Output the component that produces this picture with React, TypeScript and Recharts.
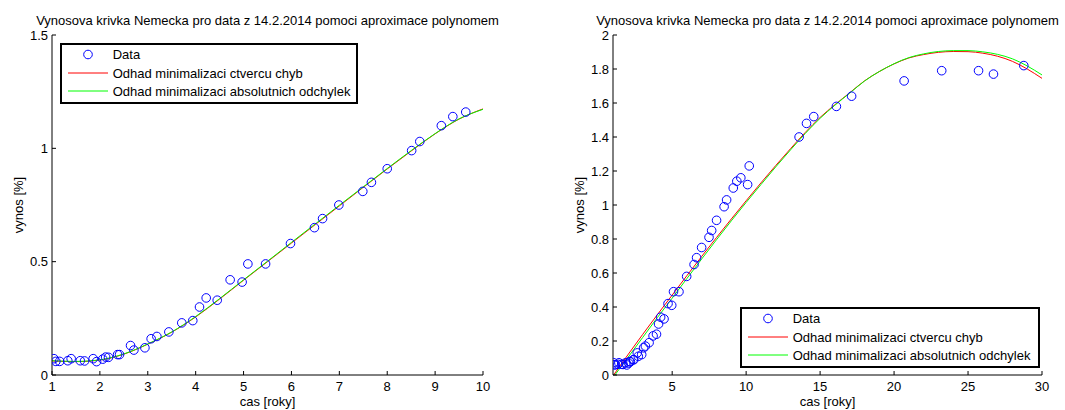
import { ComposedChart, Label, Legend, Line, Scatter, XAxis, YAxis } from "recharts";

const FONT = "'Liberation Sans', Arial, Helvetica, sans-serif";
const TITLE = "Vynosova krivka Nemecka pro data z 14.2.2014 pomoci aproximace polynomem";
const X_LABEL = "cas [roky]";
const Y_LABEL = "vynos [%]";
const SERIES = [
  "Data",
  "Odhad minimalizaci ctvercu chyb",
  "Odhad minimalizaci absolutnich odchylek",
];

// pozorovane vynosy, splatnost do 10 let
const casShort = [
  1.04, 1.08, 1.16, 1.33, 1.4, 1.59, 1.68, 1.86, 1.93, 2.06, 2.12, 2.18, 2.37, 2.41,
  2.64, 2.71, 2.94, 3.07, 3.19, 3.44, 3.71, 3.94, 4.08, 4.22, 4.45, 4.72, 4.97, 5.09,
  5.46, 5.98, 6.48, 6.65, 6.99, 7.49, 7.67, 8.0, 8.51, 8.68, 9.13, 9.37, 9.64,
];
const vynosShort = [
  0.072, 0.06, 0.06, 0.063, 0.072, 0.063, 0.062, 0.072, 0.059, 0.07, 0.079, 0.078, 0.09, 0.09,
  0.13, 0.11, 0.12, 0.16, 0.17, 0.19, 0.23, 0.24, 0.3, 0.34, 0.33, 0.42, 0.41, 0.49,
  0.49, 0.58, 0.65, 0.69, 0.75, 0.81, 0.85, 0.91, 0.99, 1.03, 1.1, 1.14, 1.16,
];
// delsi splatnosti, jen v pravem grafu
const casLong = [10.1, 10.21, 13.58, 14.08, 14.57, 16.1, 17.13, 20.68, 23.22, 25.71, 26.72, 28.77];
const vynosLong = [1.12, 1.23, 1.4, 1.48, 1.52, 1.58, 1.64, 1.73, 1.79, 1.79, 1.77, 1.82];

// odhadnute krivky
const fitShortCas = [1, 1.5, 2, 2.5, 3, 3.5, 4, 4.5, 5, 5.5, 6, 6.5, 7, 7.5, 8, 8.5, 9, 9.5, 10];
const fitShortLsq = [
  0.062, 0.059, 0.066, 0.092, 0.136, 0.189, 0.256, 0.335, 0.418, 0.5, 0.582, 0.664, 0.746,
  0.828, 0.909, 0.988, 1.064, 1.129, 1.174,
];
const fitShortLad = [
  0.063, 0.06, 0.067, 0.093, 0.137, 0.19, 0.258, 0.337, 0.42, 0.502, 0.585, 0.667, 0.749,
  0.83, 0.911, 0.99, 1.065, 1.13, 1.172,
];
const fitLongCas = [
  1, 2, 3, 4, 5, 6, 7, 8, 9, 10, 11, 12, 13, 14, 15, 16, 17, 18, 19, 20, 21, 22, 23, 24, 25,
  26, 27, 28, 29, 30,
];
const fitLongLsq = [
  -0.005, 0.118, 0.238, 0.355, 0.47, 0.585, 0.698, 0.809, 0.918, 1.025, 1.13, 1.232, 1.331,
  1.427, 1.515, 1.59, 1.66, 1.73, 1.785, 1.83, 1.865, 1.885, 1.898, 1.903, 1.902, 1.893,
  1.875, 1.845, 1.8, 1.745,
];
const fitLongLad = [
  -0.015, 0.102, 0.22, 0.338, 0.452, 0.568, 0.683, 0.796, 0.907, 1.015, 1.12, 1.224, 1.324,
  1.421, 1.51, 1.587, 1.658, 1.729, 1.785, 1.831, 1.867, 1.889, 1.903, 1.908, 1.908, 1.901,
  1.886, 1.86, 1.818, 1.765,
];

const leftXTicks = [1, 2, 3, 4, 5, 6, 7, 8, 9, 10];
const leftYTicks = [0, 0.5, 1, 1.5];
const rightXTicks = [5, 10, 15, 20, 25, 30];
const rightYTicks = [0, 0.2, 0.4, 0.6, 0.8, 1, 1.2, 1.4, 1.6, 1.8, 2];

type Pt = { x: number; y: number };
const zip = (xs: number[], ys: number[]): Pt[] => xs.map((x, i) => ({ x, y: ys[i] }));

const BLUE = "#0000ff";
const RED = "#ff0000";
const GREEN = "#00ff00";

const Ring = (p: any) => (
  <circle cx={p.cx} cy={p.cy} r={4.3} fill="none" stroke={BLUE} strokeWidth={1} />
);

function LegendBox({ w, h }: { w: number; h: number }) {
  const rows = [11.5, 30, 48];
  return (
    <svg width={w} height={h} style={{ display: "block" }}>
      <rect x={1} y={1} width={w - 2} height={h - 2} fill="#fff" stroke="#000" strokeWidth={2} />
      <circle cx={28} cy={rows[0]} r={4.3} fill="none" stroke={BLUE} strokeWidth={1} />
      <line x1={8} x2={48} y1={rows[1]} y2={rows[1]} stroke={RED} strokeWidth={1} />
      <line x1={8} x2={48} y1={rows[2]} y2={rows[2]} stroke={GREEN} strokeWidth={1} />
      {SERIES.map((s, i) => (
        <text
          key={s}
          x={52.7}
          y={rows[i]}
          dominantBaseline="central"
          fontFamily={FONT}
          fontSize={13}
          fill="#000"
        >
          {s}
        </text>
      ))}
    </svg>
  );
}

interface PanelProps {
  left: number;
  width: number;
  yAxisWidth: number;
  rightMargin: number;
  xDomain: [number, number];
  xTicks: number[];
  yDomain: [number, number];
  yTicks: number[];
  points: Pt[];
  lsq: Pt[];
  lad: Pt[];
  yLabelX: number;
  legend: { left: number; top: number; w: number; h: number };
}

const HEIGHT = 410;
const TOP = 35;
const X_AXIS_H = 35;

function Panel(p: PanelProps) {
  const tickStyle = { fill: "#000", fontSize: 13, fontFamily: FONT };
  const plotCenter = p.yAxisWidth + (p.width - p.yAxisWidth - p.rightMargin) / 2;
  return (
    <div style={{ position: "absolute", left: p.left, top: 0, width: p.width, height: HEIGHT }}>
      <div
        style={{
          position: "absolute",
          top: 13,
          left: plotCenter - 300,
          width: 600,
          textAlign: "center",
          fontFamily: FONT,
          fontSize: 13,
          lineHeight: "15px",
          whiteSpace: "nowrap",
        }}
      >
        {TITLE}
      </div>
      <ComposedChart
        width={p.width}
        height={HEIGHT}
        margin={{ top: TOP, right: p.rightMargin, bottom: 0, left: 0 }}
      >
        <XAxis
          type="number"
          dataKey="x"
          domain={p.xDomain}
          ticks={p.xTicks}
          interval={0}
          allowDataOverflow
          height={X_AXIS_H}
          tickSize={-4}
          tickMargin={11}
          axisLine={{ stroke: "#000" }}
          tickLine={{ stroke: "#000" }}
          tick={tickStyle}
        >
          <Label
            content={({ viewBox }: any) => (
              <text
                x={viewBox.x + viewBox.width / 2}
                y={viewBox.y + 31}
                textAnchor="middle"
                fontFamily={FONT}
                fontSize={13}
                fill="#000"
              >
                {X_LABEL}
              </text>
            )}
          />
        </XAxis>
        <YAxis
          type="number"
          dataKey="y"
          domain={p.yDomain}
          ticks={p.yTicks}
          interval={0}
          allowDataOverflow
          width={p.yAxisWidth}
          tickSize={-4}
          tickMargin={8}
          axisLine={{ stroke: "#000" }}
          tickLine={{ stroke: "#000" }}
          tick={tickStyle}
        >
          <Label
            content={({ viewBox }: any) => {
              const cx = p.yLabelX;
              const cy = viewBox.y + viewBox.height / 2;
              return (
                <text
                  x={cx}
                  y={cy}
                  transform={`rotate(-90 ${cx} ${cy})`}
                  textAnchor="middle"
                  dominantBaseline="central"
                  fontFamily={FONT}
                  fontSize={13}
                  fill="#000"
                >
                  {Y_LABEL}
                </text>
              );
            }}
          />
        </YAxis>
        <Scatter data={p.points} dataKey="y" shape={Ring} isAnimationActive={false} />
        <Line
          data={p.lsq}
          dataKey="y"
          type="monotone"
          stroke={RED}
          strokeWidth={1}
          dot={false}
          activeDot={false}
          isAnimationActive={false}
        />
        <Line
          data={p.lad}
          dataKey="y"
          type="monotone"
          stroke={GREEN}
          strokeWidth={1}
          dot={false}
          activeDot={false}
          isAnimationActive={false}
        />
        <Legend
          verticalAlign="middle"
          align="center"
          wrapperStyle={{
            position: "absolute",
            left: p.legend.left,
            top: p.legend.top,
            width: p.legend.w,
            height: p.legend.h,
          }}
          content={() => <LegendBox w={p.legend.w} h={p.legend.h} />}
        />
      </ComposedChart>
    </div>
  );
}

export default function App() {
  return (
    <div
      style={{
        position: "absolute",
        left: 0,
        top: 0,
        width: 1065,
        height: HEIGHT,
        background: "#fff",
        overflow: "hidden",
      }}
    >
      <Panel
        left={0}
        width={530}
        yAxisWidth={52}
        rightMargin={47}
        xDomain={[1, 10]}
        xTicks={leftXTicks}
        yDomain={[0, 1.5]}
        yTicks={leftYTicks}
        points={zip(casShort, vynosShort)}
        lsq={zip(fitShortCas, fitShortLsq)}
        lad={zip(fitShortCas, fitShortLad)}
        yLabelX={18.7}
        legend={{ left: 60, top: 43, w: 298, h: 61 }}
      />
      <Panel
        left={540}
        width={525}
        yAxisWidth={73}
        rightMargin={23}
        xDomain={[1, 30]}
        xTicks={rightXTicks}
        yDomain={[0, 2]}
        yTicks={rightYTicks}
        points={zip(casShort.concat(casLong), vynosShort.concat(vynosLong))}
        lsq={zip(fitLongCas, fitLongLsq)}
        lad={zip(fitLongCas, fitLongLad)}
        yLabelX={39.5}
        legend={{ left: 200, top: 307, w: 300, h: 61 }}
      />
    </div>
  );
}
